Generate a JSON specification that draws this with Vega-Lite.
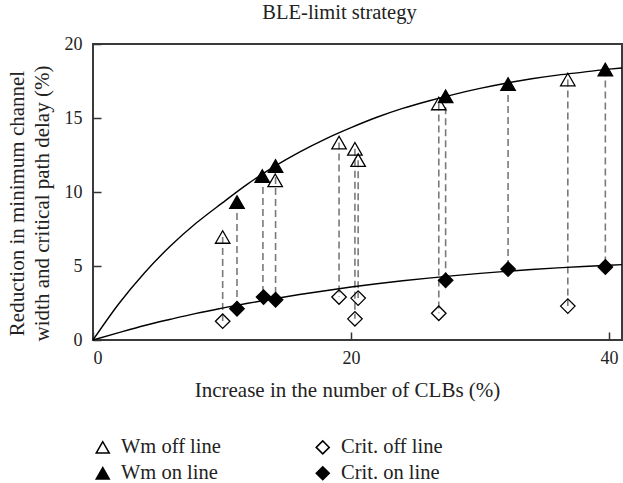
{
  "$schema": "https://vega.github.io/schema/vega-lite/v6.json",
  "width": 529,
  "height": 296,
  "autosize": {"type": "none"},
  "padding": {"left": 93, "top": 44, "right": 1, "bottom": 143},
  "background": "white",
  "title": {
    "text": "BLE-limit strategy",
    "font": "Liberation Serif",
    "fontSize": 20.5,
    "fontWeight": "normal",
    "color": "#222",
    "offset": 12,
    "dx": -18
  },
  "config": {
    "view": {"stroke": "#3a3a3a", "strokeWidth": 2},
    "axis": {
      "labelFont": "Liberation Serif",
      "titleFont": "Liberation Serif",
      "labelFontSize": 18,
      "titleFontSize": 21,
      "titleFontWeight": "normal",
      "labelColor": "#222",
      "titleColor": "#222",
      "domain": false,
      "grid": false,
      "tickColor": "#333",
      "tickWidth": 1.5,
      "tickSize": -8
    },
    "legend": {
      "labelFont": "Liberation Serif",
      "labelFontSize": 20.5,
      "labelColor": "#222"
    }
  },
  "datasets": {
    "pts": [
      {"x": 10.05, "y": 6.96, "series": "Wm off line"},
      {"x": 14.12, "y": 10.79, "series": "Wm off line"},
      {"x": 19.07, "y": 13.34, "series": "Wm off line"},
      {"x": 20.3, "y": 12.92, "series": "Wm off line"},
      {"x": 20.55, "y": 12.15, "series": "Wm off line"},
      {"x": 26.8, "y": 15.98, "series": "Wm off line"},
      {"x": 36.8, "y": 17.6, "series": "Wm off line"},
      {"x": 11.16, "y": 9.32, "series": "Wm on line"},
      {"x": 13.12, "y": 11.08, "series": "Wm on line"},
      {"x": 14.15, "y": 11.76, "series": "Wm on line"},
      {"x": 27.33, "y": 16.47, "series": "Wm on line"},
      {"x": 32.17, "y": 17.29, "series": "Wm on line"},
      {"x": 39.71, "y": 18.28, "series": "Wm on line"},
      {"x": 10.05, "y": 1.27, "series": "Crit. off line"},
      {"x": 19.07, "y": 2.9, "series": "Crit. off line"},
      {"x": 20.3, "y": 1.43, "series": "Crit. off line"},
      {"x": 20.55, "y": 2.83, "series": "Crit. off line"},
      {"x": 26.8, "y": 1.81, "series": "Crit. off line"},
      {"x": 36.8, "y": 2.29, "series": "Crit. off line"},
      {"x": 11.16, "y": 2.11, "series": "Crit. on line"},
      {"x": 13.22, "y": 2.9, "series": "Crit. on line"},
      {"x": 14.15, "y": 2.72, "series": "Crit. on line"},
      {"x": 27.33, "y": 4.03, "series": "Crit. on line"},
      {"x": 32.17, "y": 4.79, "series": "Crit. on line"},
      {"x": 39.71, "y": 4.93, "series": "Crit. on line"}
    ],
    "links": [
      {"x": 10.05, "top": 6.96, "bottom": 1.27},
      {"x": 11.16, "top": 9.32, "bottom": 2.11},
      {"x": 13.17, "top": 11.08, "bottom": 2.9},
      {"x": 14.15, "top": 11.76, "bottom": 2.72},
      {"x": 19.07, "top": 13.34, "bottom": 2.9},
      {"x": 20.3, "top": 12.92, "bottom": 1.43},
      {"x": 20.55, "top": 12.15, "bottom": 2.83},
      {"x": 26.8, "top": 15.98, "bottom": 1.81},
      {"x": 27.33, "top": 16.47, "bottom": 4.03},
      {"x": 32.17, "top": 17.29, "bottom": 4.79},
      {"x": 36.8, "top": 17.6, "bottom": 2.29},
      {"x": 39.71, "top": 18.28, "bottom": 4.93}
    ],
    "curves": [
      {"x": 0, "y": 0, "c": "wm"},
      {"x": 2, "y": 2.45, "c": "wm"},
      {"x": 4, "y": 4.55, "c": "wm"},
      {"x": 6, "y": 6.35, "c": "wm"},
      {"x": 8, "y": 7.9, "c": "wm"},
      {"x": 10, "y": 9.25, "c": "wm"},
      {"x": 12, "y": 10.55, "c": "wm"},
      {"x": 14, "y": 11.7, "c": "wm"},
      {"x": 16, "y": 12.7, "c": "wm"},
      {"x": 18, "y": 13.58, "c": "wm"},
      {"x": 20, "y": 14.35, "c": "wm"},
      {"x": 22, "y": 15.05, "c": "wm"},
      {"x": 24, "y": 15.65, "c": "wm"},
      {"x": 26, "y": 16.15, "c": "wm"},
      {"x": 28, "y": 16.6, "c": "wm"},
      {"x": 30, "y": 17.0, "c": "wm"},
      {"x": 32, "y": 17.35, "c": "wm"},
      {"x": 34, "y": 17.65, "c": "wm"},
      {"x": 36, "y": 17.9, "c": "wm"},
      {"x": 38, "y": 18.1, "c": "wm"},
      {"x": 40, "y": 18.3, "c": "wm"},
      {"x": 41, "y": 18.38, "c": "wm"},
      {"x": 0, "y": 0, "c": "crit"},
      {"x": 2, "y": 0.5, "c": "crit"},
      {"x": 4, "y": 0.98, "c": "crit"},
      {"x": 6, "y": 1.4, "c": "crit"},
      {"x": 8, "y": 1.8, "c": "crit"},
      {"x": 10, "y": 2.15, "c": "crit"},
      {"x": 12, "y": 2.48, "c": "crit"},
      {"x": 14, "y": 2.78, "c": "crit"},
      {"x": 16, "y": 3.07, "c": "crit"},
      {"x": 18, "y": 3.33, "c": "crit"},
      {"x": 20, "y": 3.58, "c": "crit"},
      {"x": 22, "y": 3.8, "c": "crit"},
      {"x": 24, "y": 4.0, "c": "crit"},
      {"x": 26, "y": 4.18, "c": "crit"},
      {"x": 28, "y": 4.35, "c": "crit"},
      {"x": 30, "y": 4.5, "c": "crit"},
      {"x": 32, "y": 4.64, "c": "crit"},
      {"x": 34, "y": 4.76, "c": "crit"},
      {"x": 36, "y": 4.87, "c": "crit"},
      {"x": 38, "y": 4.97, "c": "crit"},
      {"x": 40, "y": 5.05, "c": "crit"},
      {"x": 41, "y": 5.09, "c": "crit"}
    ]
  },
  "layer": [
    {
      "data": {"name": "links"},
      "mark": {"type": "rule", "color": "#7a7a7a", "strokeWidth": 1.6, "strokeDash": [7, 4]},
      "encoding": {
        "x": {"field": "x", "type": "quantitative", "scale": {"domain": [0, 41], "nice": false, "zero": false},
          "axis": {"values": [0, 20, 40], "title": "Increase in the number of CLBs (%)", "labelPadding": 17, "titleX": 254, "titleY": 50, "titleBaseline": "middle"}},
        "y": {"field": "top", "type": "quantitative", "scale": {"domain": [0, 20], "nice": false},
          "axis": {"values": [0, 5, 10, 15, 20], "title": ["Reduction in minimum channel", "width and critical path delay (%)"], "labelPadding": 19, "titleLineHeight": 25, "titleX": -76, "titleY": 159, "titleBaseline": "middle", "titleAlign": "center"}},
        "y2": {"field": "bottom"}
      }
    },
    {
      "data": {"name": "curves"},
      "mark": {"type": "line", "color": "black", "strokeWidth": 1.4, "interpolate": "monotone"},
      "encoding": {
        "x": {"field": "x", "type": "quantitative"},
        "y": {"field": "y", "type": "quantitative"},
        "detail": {"field": "c"}
      }
    },
    {
      "data": {"name": "pts"},
      "mark": {"type": "point", "filled": true, "stroke": "black", "strokeWidth": 1.3, "opacity": 1, "size": 210},
      "encoding": {
        "x": {"field": "x", "type": "quantitative"},
        "y": {"field": "y", "type": "quantitative"},
        "shape": {"field": "series", "type": "nominal",
          "scale": {"domain": ["Wm off line", "Wm on line", "Crit. off line", "Crit. on line"], "range": ["triangle-up", "triangle-up", "diamond", "diamond"]},
          "legend": {"title": null, "orient": "none", "legendX": -0.5, "legendY": 393, "columns": 2, "columnPadding": 91, "rowPadding": 5, "symbolSize": 170, "labelOffset": 8,
            "encode": {"symbols": {"update": {"stroke": {"value": "black"}, "strokeWidth": {"value": 1.3}}}}}},
        "fill": {"field": "series", "type": "nominal",
          "scale": {"domain": ["Wm off line", "Wm on line", "Crit. off line", "Crit. on line"], "range": ["transparent", "black", "transparent", "black"]},
          "legend": {"title": null, "orient": "none", "legendX": -0.5, "legendY": 393, "columns": 2, "columnPadding": 91, "rowPadding": 5, "symbolSize": 170, "labelOffset": 8,
            "encode": {"symbols": {"update": {"stroke": {"value": "black"}, "strokeWidth": {"value": 1.3}}}}}}
      }
    }
  ]
}
